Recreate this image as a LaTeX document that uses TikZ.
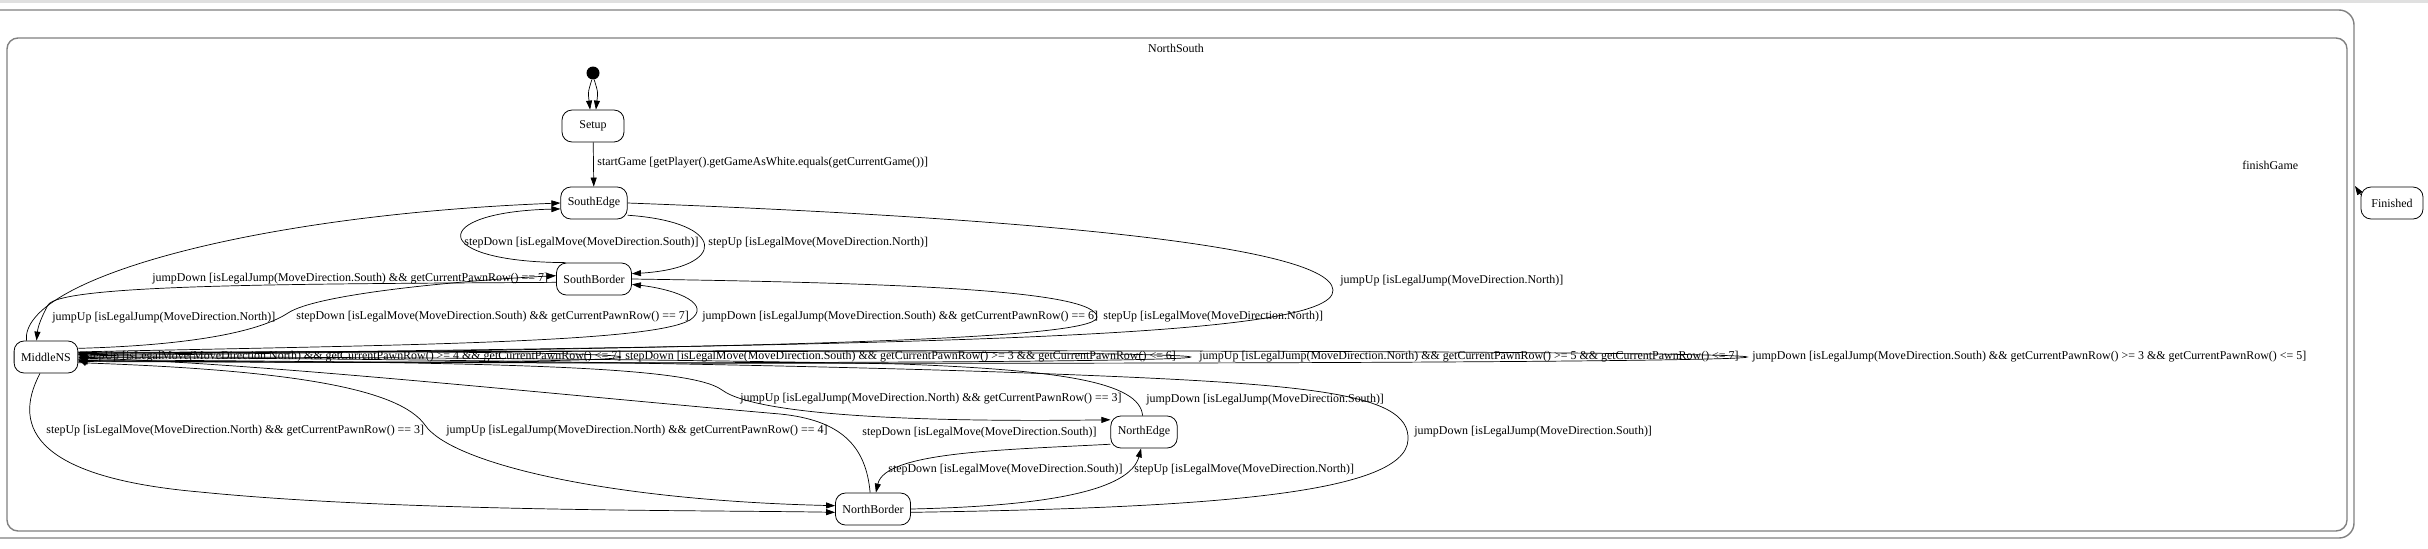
\documentclass[tikz,border=0pt]{standalone}
\usepackage{fontspec}
\setmainfont{Liberation Serif}
\usetikzlibrary{arrows.meta}
\newcommand{\umlfont}{\fontsize{6.8}{8}\selectfont}

\begin{document}
\begin{tikzpicture}[x=0.02cm, y=-0.02cm,
  state/.style={draw, rounded corners=0.2cm, line width=0.45pt, minimum width=1.24cm, minimum height=0.64cm, inner xsep=0.14cm, font=\umlfont},
  lbl/.style={anchor=west, inner sep=0pt, font=\umlfont},
  tr/.style={-{Triangle[length=0.18cm,width=0.12cm]}, line width=0.4pt},
  frame/.style={draw=black!50, line width=0.8pt}]
\useasboundingbox (0,0) rectangle (2428,548);
\fill[black!12] (0,0) rectangle (2428,3);
\draw[frame, rounded corners=0.3cm] (-40,10) rectangle (2354,538);
\draw[frame, rounded corners=0.22cm] (7,38) rectangle (2347,531);
\node[font=\umlfont] (ns-title) at (1176,48) {NorthSouth};

\node[circle, fill, inner sep=0pt, minimum size=0.26cm] (init) at (593,73) {};
\node[state] (setup) at (593,126) {Setup};
\node[state] (sedge) at (594,203) {SouthEdge};
\node[state] (sborder) at (594,279) {SouthBorder};
\node[state] (middle) at (46,357) {MiddleNS};
\node[state] (nedge) at (1144,432) {NorthEdge};
\node[state] (nborder) at (873,509) {NorthBorder};
\node[state] (finished) at (2392,203) {Finished};
\coordinate (nsexit) at (2355,186);

\draw[tr] (init.-100) .. controls (588,92) .. (setup.100);
\draw[tr] (init.-80) .. controls (598,92) .. (setup.80);
\draw[tr] (setup) -- (sedge);
\node[lbl] (l-start) at (597,163) {startGame [getPlayer().getGameAsWhite.equals(getCurrentGame())]};
\draw[tr] (finished.165) -- (nsexit);
\node[lbl] (l-finish) at (2242,165) {finishGame};

\draw[tr] (sedge.-20) .. controls (728,222) and (728,268) .. (sborder.8);
\node[lbl] (l-seup) at (708,243) {stepUp [isLegalMove(MoveDirection.North)]};
\draw[tr] (sborder.150) .. controls (428,262) and (428,212) .. (sedge.190);
\node[lbl] (l-sbdown) at (464,243) {stepDown [isLegalMove(MoveDirection.South)]};
\draw[tr] (sedge.east) .. controls (950,215) and (1330,240) .. (1333,290) .. controls (1336,340) and (900,345) .. (middle.4);
\node[lbl] (l-sejump) at (1340,281) {jumpUp [isLegalJump(MoveDirection.North)]};
\draw[tr] (middle.140) .. controls (20,280) and (250,215) .. (sedge.west);
\node[lbl] (l-mjd7) at (152,279) {jumpDown [isLegalJump(MoveDirection.South) \&\& getCurrentPawnRow() == 7]};
\draw[tr] (sborder.185) .. controls (300,284) and (60,284) .. (48,305) .. controls (42,316) and (38,326) .. (middle.120);
\node[lbl] (l-sbjump) at (52,318) {jumpUp [isLegalJump(MoveDirection.North)]};
\draw[tr] (middle.15) .. controls (200,345) and (262,330) .. (288,313) .. controls (318,293) and (470,280) .. (sborder.175);
\node[lbl] (l-mstep7) at (296,317) {stepDown [isLegalMove(MoveDirection.South) \&\& getCurrentPawnRow() == 7]};
\draw[tr] (middle.9) .. controls (400,345) and (650,343) .. (690,320) .. controls (712,305) and (680,290) .. (sborder.-8);
\node[lbl] (l-mjd6) at (702,317) {jumpDown [isLegalJump(MoveDirection.South) \&\& getCurrentPawnRow() == 6]};
\draw[tr] (sborder.0) .. controls (900,283) and (1095,290) .. (1097,317) .. controls (1099,342) and (700,348) .. (middle.2);
\node[lbl] (l-sbup) at (1103,317) {stepUp [isLegalMove(MoveDirection.North)]};

\draw[tr] (middle.4) .. controls (86,351) and (86,363) .. (middle.-4);
\draw[tr] (middle.6) .. controls (800,346) and (800,368) .. (middle.-6);
\draw[tr] (middle.7) .. controls (1560,345) and (1560,369) .. (middle.-7);
\draw[tr] (middle.8) .. controls (2302,344) and (2302,370) .. (middle.-8);
\node[lbl] (l-loop1) at (85,357) {stepUp [isLegalMove(MoveDirection.North) \&\& getCurrentPawnRow() >= 4 \&\& getCurrentPawnRow() <= 7]};
\node[lbl] (l-loop2) at (625,357) {stepDown [isLegalMove(MoveDirection.South) \&\& getCurrentPawnRow() >= 3 \&\& getCurrentPawnRow() <= 6]};
\node[lbl] (l-loop3) at (1199,357) {jumpUp [isLegalJump(MoveDirection.North) \&\& getCurrentPawnRow() >= 5 \&\& getCurrentPawnRow() <= 7]};
\node[lbl] (l-loop4) at (1752,357) {jumpDown [isLegalJump(MoveDirection.South) \&\& getCurrentPawnRow() >= 3 \&\& getCurrentPawnRow() <= 5]};

\draw[tr] (middle.-110) .. controls (10,430) and (40,478) .. (200,492) .. controls (400,512) and (700,510) .. (nborder.185);
\node[lbl] (l-mup3) at (46,431) {stepUp [isLegalMove(MoveDirection.North) \&\& getCurrentPawnRow() == 3]};
\draw[tr] (middle.-10) .. controls (300,370) and (400,390) .. (425,425) .. controls (450,462) and (600,500) .. (nborder.175);
\node[lbl] (l-mjup4) at (446,431) {jumpUp [isLegalJump(MoveDirection.North) \&\& getCurrentPawnRow() == 4]};
\draw[tr] (middle.-5) .. controls (500,362) and (690,366) .. (722,390) .. controls (760,418) and (950,422) .. (nedge.160);
\node[lbl] (l-mjup3) at (740,399) {jumpUp [isLegalJump(MoveDirection.North) \&\& getCurrentPawnRow() == 3]};
\draw[tr] (nedge.95) .. controls (1140,382) and (1060,370) .. (900,364) .. controls (600,358) and (300,357) .. (middle.0);
\node[lbl] (l-nejd) at (1146,400) {jumpDown [isLegalJump(MoveDirection.South)]};
\draw[tr] (nborder.100) .. controls (866,445) and (840,420) .. (780,414) .. controls (560,395) and (250,362) .. (middle.-2);
\node[lbl] (l-nbdown) at (862,433) {stepDown [isLegalMove(MoveDirection.South)]};
\draw[tr] (nedge.200) .. controls (1000,450) and (885,452) .. (nborder.80);
\node[lbl] (l-nedown) at (888,470) {stepDown [isLegalMove(MoveDirection.South)]};
\draw[tr] (nborder.east) .. controls (1050,506) and (1130,490) .. (nedge.-100);
\node[lbl] (l-nbup) at (1134,470) {stepUp [isLegalMove(MoveDirection.North)]};
\draw[tr] (nborder.-5) .. controls (1200,508) and (1405,495) .. (1408,440) .. controls (1411,390) and (1300,383) .. (1000,372) .. controls (700,362) and (300,358) .. (middle.-1);
\node[lbl] (l-nbjd) at (1414,432) {jumpDown [isLegalJump(MoveDirection.South)]};
\end{tikzpicture}
\end{document}
